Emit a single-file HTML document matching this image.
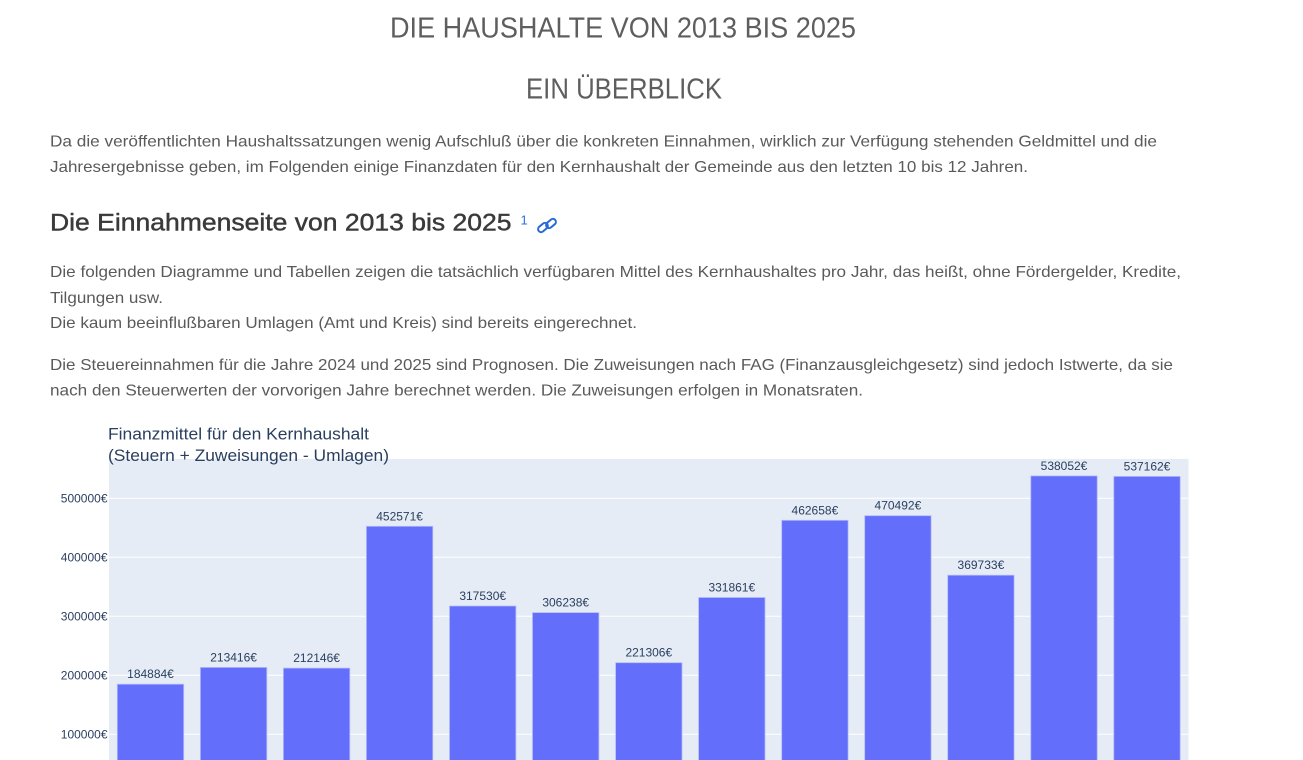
<!DOCTYPE html>
<html>
<head>
<meta charset="utf-8">
<style>
  html, body { margin: 0; padding: 0; background: #ffffff; }
  svg { display: block; }
  .t { font-family: "Liberation Sans", Arial, sans-serif; }
</style>
</head>
<body>
<svg width="1303" height="760" viewBox="0 0 1303 760" xmlns="http://www.w3.org/2000/svg">
  <rect x="0" y="0" width="1303" height="760" fill="#ffffff"/>

  <!-- Page titles -->
  <text class="t" x="390" y="37.5" font-size="29" fill="#5e5e5e" textLength="466" lengthAdjust="spacingAndGlyphs">DIE HAUSHALTE VON 2013 BIS 2025</text>
  <text class="t" x="526" y="98.3" font-size="29" fill="#5e5e5e" textLength="196" lengthAdjust="spacingAndGlyphs">EIN ÜBERBLICK</text>

  <!-- Paragraph 1 -->
  <g class="t" font-size="16" fill="#5a5a5a">
    <text x="50" y="146.5" textLength="1107" lengthAdjust="spacingAndGlyphs">Da die veröffentlichten Haushaltssatzungen wenig Aufschluß über die konkreten Einnahmen, wirklich zur Verfügung stehenden Geldmittel und die</text>
    <text x="50" y="172" textLength="978" lengthAdjust="spacingAndGlyphs">Jahresergebnisse geben, im Folgenden einige Finanzdaten für den Kernhaushalt der Gemeinde aus den letzten 10 bis 12 Jahren.</text>
  </g>

  <!-- Heading -->
  <text class="t" x="50" y="230.5" font-size="24" fill="#3a3a3a" stroke="#3a3a3a" stroke-width="0.45" textLength="461.5" lengthAdjust="spacingAndGlyphs">Die Einnahmenseite von 2013 bis 2025</text>
  <text class="t" x="520.5" y="224.5" font-size="13" fill="#2f6fdc">1</text>
  <!-- link icon -->
  <g fill="none" stroke="#2a6ad8" stroke-width="2">
    <rect x="537.5" y="224.5" width="11" height="6" rx="3" ry="3" transform="rotate(-40 543 227.5)"/>
    <rect x="545.5" y="220.5" width="11" height="6" rx="3" ry="3" transform="rotate(-40 551 223.5)"/>
  </g>

  <!-- Paragraph 2 -->
  <g class="t" font-size="16" fill="#5a5a5a">
    <text x="50" y="277" textLength="1131" lengthAdjust="spacingAndGlyphs">Die folgenden Diagramme und Tabellen zeigen die tatsächlich verfügbaren Mittel des Kernhaushaltes pro Jahr, das heißt, ohne Fördergelder, Kredite,</text>
    <text x="50" y="302.8" textLength="113" lengthAdjust="spacingAndGlyphs">Tilgungen usw.</text>
    <text x="50" y="328.2" textLength="587" lengthAdjust="spacingAndGlyphs">Die kaum beeinflußbaren Umlagen (Amt und Kreis) sind bereits eingerechnet.</text>
  </g>

  <!-- Paragraph 3 -->
  <g class="t" font-size="16" fill="#5a5a5a">
    <text x="50" y="370" textLength="1123" lengthAdjust="spacingAndGlyphs">Die Steuereinnahmen für die Jahre 2024 und 2025 sind Prognosen. Die Zuweisungen nach FAG (Finanzausgleichgesetz) sind jedoch Istwerte, da sie</text>
    <text x="50" y="395.4" textLength="813" lengthAdjust="spacingAndGlyphs">nach den Steuerwerten der vorvorigen Jahre berechnet werden. Die Zuweisungen erfolgen in Monatsraten.</text>
  </g>

  <!-- Chart plot area -->
  <rect x="109" y="459" width="1079.5" height="301" fill="#E5ECF6"/>
  <g stroke="#ffffff" stroke-width="1">
    <line x1="109" x2="1188.5" y1="498.3" y2="498.3"/>
    <line x1="109" x2="1188.5" y1="557.3" y2="557.3"/>
    <line x1="109" x2="1188.5" y1="616.3" y2="616.3"/>
    <line x1="109" x2="1188.5" y1="675.3" y2="675.3"/>
    <line x1="109" x2="1188.5" y1="734.3" y2="734.3"/>
  </g>

  <!-- Y tick labels -->
  <g class="t" font-size="12" fill="#2a3f5f" text-anchor="end">
    <text x="107.5" y="502.5">500000€</text>
    <text x="107.5" y="561.5">400000€</text>
    <text x="107.5" y="620.5">300000€</text>
    <text x="107.5" y="679.5">200000€</text>
    <text x="107.5" y="738.5">100000€</text>
  </g>

  <!-- Bars -->
  <g fill="#636EFA" stroke="#B4BBFA" stroke-width="0.8">
    <rect x="117.3" y="684.2" width="66.4" height="90"/>
    <rect x="200.4" y="667.4" width="66.4" height="110"/>
    <rect x="283.4" y="668.1" width="66.4" height="110"/>
    <rect x="366.4" y="526.3" width="66.4" height="250"/>
    <rect x="449.5" y="606.0" width="66.4" height="170"/>
    <rect x="532.5" y="612.6" width="66.4" height="170"/>
    <rect x="615.6" y="662.7" width="66.4" height="110"/>
    <rect x="698.6" y="597.5" width="66.4" height="180"/>
    <rect x="781.7" y="520.3" width="66.4" height="260"/>
    <rect x="864.7" y="515.7" width="66.4" height="260"/>
    <rect x="947.7" y="575.2" width="66.4" height="200"/>
    <rect x="1030.8" y="475.9" width="66.4" height="300"/>
    <rect x="1113.8" y="476.4" width="66.4" height="300"/>
  </g>

  <!-- Bar labels -->
  <g class="t" font-size="12" fill="#2a3f5f" text-anchor="middle">
    <text x="150.5" y="678.2">184884€</text>
    <text x="233.6" y="661.4">213416€</text>
    <text x="316.6" y="662.1">212146€</text>
    <text x="399.6" y="520.3">452571€</text>
    <text x="482.7" y="600.0">317530€</text>
    <text x="565.7" y="606.6">306238€</text>
    <text x="648.8" y="656.7">221306€</text>
    <text x="731.8" y="591.5">331861€</text>
    <text x="814.9" y="514.3">462658€</text>
    <text x="897.9" y="509.7">470492€</text>
    <text x="980.9" y="569.2">369733€</text>
    <text x="1064.0" y="469.9">538052€</text>
    <text x="1147.0" y="470.4">537162€</text>
  </g>

  <!-- Chart title -->
  <g class="t" font-size="17" fill="#2a3f5f">
    <text x="108" y="439.3" textLength="261" lengthAdjust="spacingAndGlyphs">Finanzmittel für den Kernhaushalt</text>
    <text x="108" y="460.8" textLength="281" lengthAdjust="spacingAndGlyphs">(Steuern + Zuweisungen - Umlagen)</text>
  </g>
</svg>
</body>
</html>
